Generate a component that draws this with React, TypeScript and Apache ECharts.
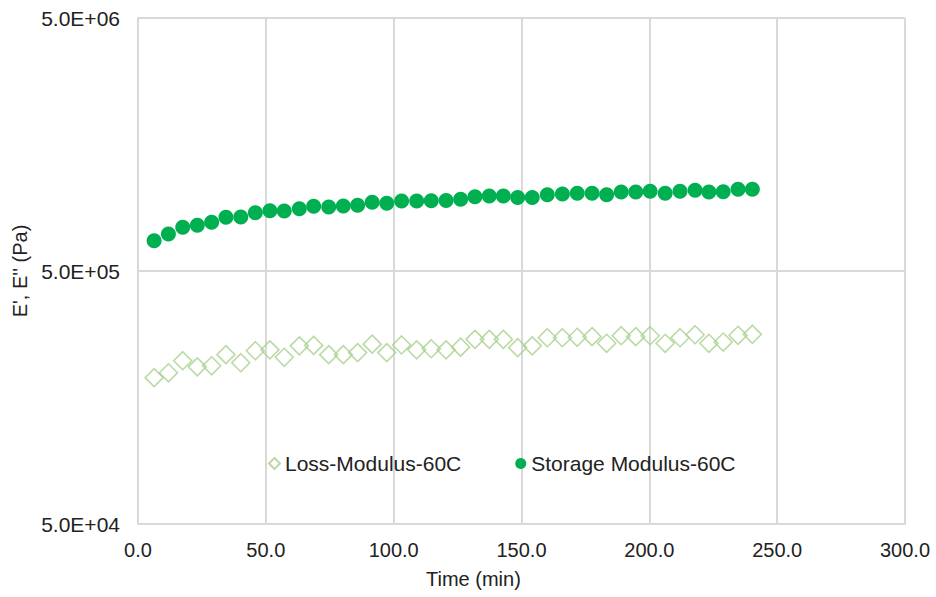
import React, { useEffect, useRef } from "react";
import * as echarts from "echarts";

const timeMin = [6.3, 11.9, 17.5, 23.2, 28.8, 34.4, 40.2, 45.9, 51.6, 57.2, 63.1, 68.7, 74.6, 80.3, 85.9, 91.6, 97.3, 103.1, 109.0, 114.7, 120.5, 126.2, 131.8, 137.4, 142.9, 148.5, 154.2, 160.1, 166.0, 171.8, 177.6, 183.3, 189.0, 194.7, 200.3, 206.2, 212.0, 217.9, 223.3, 228.9, 234.7, 240.3];

const storageModulus = [659000, 700000, 744000, 758000, 779000, 815000, 817000, 850000, 866000, 864000, 882000, 901000, 896000, 904000, 910000, 934000, 926000, 946000, 946000, 948000, 950000, 960000, 983000, 990000, 990000, 977000, 977000, 1001000, 1008000, 1015000, 1015000, 1001000, 1026000, 1026000, 1033000, 1015000, 1033000, 1042000, 1026000, 1029000, 1052000, 1052000];

const lossModulus = [189400, 198000, 221000, 209000, 211000, 233500, 217000, 242000, 244000, 228000, 253000, 254000, 233500, 233500, 238000, 257000, 238000, 255000, 244000, 246500, 244000, 250000, 268500, 268500, 268500, 249000, 253000, 272500, 272500, 273500, 275000, 259000, 277500, 275000, 277500, 259000, 272500, 280000, 259000, 262000, 278500, 281000];

const yBase = 5e4; // bottom of the log axis; ticks at 5e4, 5e5, 5e6
const yTickLabels = ["5.0E+04", "5.0E+05", "5.0E+06"];
const xTicks = [0, 50, 100, 150, 200, 250, 300];

const FONT = "'Liberation Sans', Arial, sans-serif";

export default function App() {
  const ref = useRef<HTMLDivElement>(null);
  useEffect(() => {
    if (!ref.current) return;
    const chart = echarts.init(ref.current, undefined, { renderer: "svg" });
    const toLog = (v: number) => Math.log10(v / yBase);
    chart.setOption({
      animation: false,
      backgroundColor: "#ffffff",
      textStyle: { fontFamily: FONT },
      grid: { left: 138, right: 31, top: 18, bottom: 73, containLabel: false },
      legend: {
        left: 263,
        top: 448,
        itemWidth: 11,
        itemHeight: 11,
        itemGap: 54,
        textStyle: { fontFamily: FONT, fontSize: 21, color: "#222" },
        data: ["Loss-Modulus-60C", "Storage Modulus-60C"],
      },
      xAxis: {
        type: "value",
        min: xTicks[0],
        max: xTicks[xTicks.length - 1],
        interval: 50,
        axisLine: { show: true, lineStyle: { color: "#D9D9D9", width: 2 } },
        axisTick: { show: false },
        axisLabel: {
          fontFamily: FONT,
          fontSize: 20,
          color: "#222",
          margin: 16,
          formatter: (v: number) => v.toFixed(1),
        },
        splitLine: { show: true, lineStyle: { color: "#D9D9D9", width: 2 } },
      },
      yAxis: {
        type: "value",
        min: 0,
        max: 2,
        interval: 1,
        name: "E', E'' (Pa)",
        nameLocation: "middle",
        nameGap: 106,
        nameTextStyle: { fontFamily: FONT, fontSize: 20, color: "#222" },
        axisLine: { show: true, lineStyle: { color: "#D9D9D9", width: 2 } },
        axisTick: { show: false },
        axisLabel: {
          fontFamily: FONT,
          fontSize: 21,
          color: "#222",
          margin: 18,
          formatter: (v: number) => yTickLabels[Math.round(v)] ?? "",
        },
        splitLine: { show: true, lineStyle: { color: "#D9D9D9", width: 2 } },
      },
      graphic: [
        {
          type: "text",
          left: 426,
          top: 569,
          style: { text: "Time (min)", font: `20px ${FONT}`, fill: "#222" },
        },
      ],
      series: [
        {
          name: "Loss-Modulus-60C",
          type: "scatter",
          symbol: "diamond",
          symbolSize: 18,
          itemStyle: { color: "rgba(255,255,255,0)", borderColor: "#A9D18E", borderWidth: 1.6 },
          data: timeMin.map((t, i) => [t, toLog(lossModulus[i])]),
        },
        {
          name: "Storage Modulus-60C",
          type: "scatter",
          symbol: "circle",
          symbolSize: 15,
          itemStyle: { color: "#00B050", opacity: 1 },
          data: timeMin.map((t, i) => [t, toLog(storageModulus[i])]),
        },
      ],
    });
    return () => chart.dispose();
  }, []);
  return (
    <div
      ref={ref}
      style={{ position: "fixed", left: 0, top: 0, width: 936, height: 597 }}
    />
  );
}
